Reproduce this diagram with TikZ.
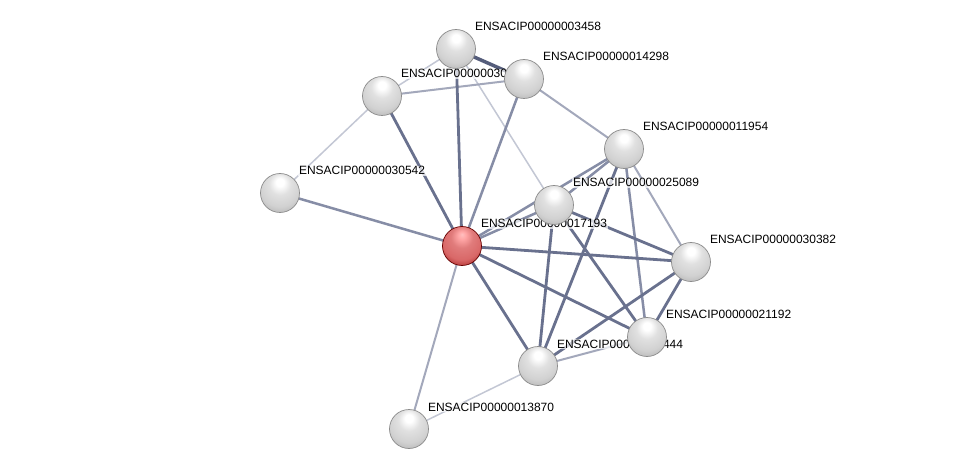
\documentclass[tikz,border=0pt]{standalone}
\usepackage{fontspec}
\setmainfont{Liberation Sans}
\usetikzlibrary{calc}
\pgfdeclarelayer{bglayer}
\pgfdeclarelayer{edgelayer}
\pgfdeclarelayer{labellayer}
\pgfsetlayers{bglayer,edgelayer,labellayer,main}
\definecolor{ecA}{HTML}{C3C7D4}
\definecolor{ecB}{HTML}{A3A8BB}
\definecolor{ecC}{HTML}{868DA6}
\definecolor{ecD}{HTML}{69718E}
\definecolor{ecE}{HTML}{555D7B}
\pgfdeclareradialshading{sphgray}{\pgfpoint{0bp}{15bp}}{color(0bp)=(white); color(5bp)=(white); color(14bp)=(white!88!black); color(26bp)=(white!82!black); color(36bp)=(white!70!black); color(42bp)=(white!55!black); color(60bp)=(white!55!black)}
\pgfdeclareradialshading{sphred}{\pgfpoint{0bp}{15bp}}{color(0bp)=(white!75!red); color(5bp)=(white!65!red); color(14bp)=(red!45!white!88!black); color(26bp)=(red!52!white!85!black); color(36bp)=(red!60!black!85!white); color(42bp)=(red!50!black); color(60bp)=(red!50!black)}
\tikzset{
  prot/.style={circle, minimum size=39pt, inner sep=0pt, draw=black!45, line width=0.7pt, shading=sphgray},
  protred/.style={prot, draw=red!40!black, shading=sphred},
  lbl/.style={anchor=base west, font=\fontsize{12pt}{14pt}\selectfont, fill=white, fill opacity=0.7, text opacity=1, inner sep=0.8pt},
  ea/.style={draw=ecA, line width=1.5pt},
  eb/.style={draw=ecB, line width=2pt},
  ec/.style={draw=ecC, line width=2.5pt},
  ed/.style={draw=ecD, line width=2.8pt},
  ee/.style={draw=ecE, line width=3.5pt}
}
\begin{document}
\begin{tikzpicture}[x=1pt,y=-1pt]
\useasboundingbox (0,0) rectangle (975,473);
\begin{pgfonlayer}{bglayer}
\fill[white] (0,0) rectangle (975,473);
\end{pgfonlayer}
% nodes
\node[prot] (A) at (456,49) {};
\node[prot] (B) at (524,79) {};
\node[prot] (C) at (382,96) {};
\node[prot] (D) at (280,193) {};
\node[protred] (E) at (462,246) {};
\node[prot] (F) at (624,149) {};
\node[prot] (G) at (554,205) {};
\node[prot] (H) at (691,262) {};
\node[prot] (I) at (647,337) {};
\node[prot] (J) at (538,366) {};
\node[prot] (K) at (409,429) {};
% labels
\begin{pgfonlayer}{labellayer}
\node[lbl] (lA) at ([shift={(18pt,18pt)}]A.center) {ENSACIP00000003458};
\node[lbl] (lB) at ([shift={(18pt,18pt)}]B.center) {ENSACIP00000014298};
\node[lbl] (lC) at ([shift={(18pt,18pt)}]C.center) {ENSACIP00000030};
\node[lbl] (lD) at ([shift={(18pt,18pt)}]D.center) {ENSACIP00000030542};
\node[lbl] (lE) at ([shift={(18pt,18pt)}]E.center) {ENSACIP00000017193};
\node[lbl] (lF) at ([shift={(18pt,18pt)}]F.center) {ENSACIP00000011954};
\node[lbl] (lG) at ([shift={(18pt,18pt)}]G.center) {ENSACIP00000025089};
\node[lbl] (lH) at ([shift={(18pt,18pt)}]H.center) {ENSACIP00000030382};
\node[lbl] (lI) at ([shift={(18pt,18pt)}]I.center) {ENSACIP00000021192};
\node[lbl] (lJ) at ([shift={(18pt,18pt)}]J.center) {ENSACIP00000000444};
\node[lbl] (lK) at ([shift={(18pt,18pt)}]K.center) {ENSACIP00000013870};
\end{pgfonlayer}
% edges
\begin{pgfonlayer}{edgelayer}
\draw[ea] (C.center) -- (A.center);
\draw[ea] (C.center) -- (D.center);
\draw[ea] (A.center) -- (G.center);
\draw[ea] (J.center) -- (K.center);
\draw[eb] (C.center) -- (B.center);
\draw[eb] (B.center) -- (F.center);
\draw[eb] (E.center) -- (K.center);
\draw[eb] (F.center) -- (H.center);
\draw[eb] (I.center) -- (J.center);
\draw[ec] (B.center) -- (E.center);
\draw[ec] (D.center) -- (E.center);
\draw[ec] (E.center) -- (F.center);
\draw[ec] (E.center) -- (G.center);
\draw[ec] (G.center) -- (F.center);
\draw[ec] (F.center) -- (I.center);
\draw[ed] (C.center) -- (E.center);
\draw[ed] (A.center) -- (E.center);
\draw[ed] (E.center) -- (H.center);
\draw[ed] (E.center) -- (I.center);
\draw[ed] (E.center) -- (J.center);
\draw[ed] (G.center) -- (H.center);
\draw[ed] (G.center) -- (I.center);
\draw[ed] (G.center) -- (J.center);
\draw[ed] (F.center) -- (J.center);
\draw[ed] (H.center) -- (I.center);
\draw[ed] (H.center) -- (J.center);
\draw[ee] (A.center) -- (B.center);
\end{pgfonlayer}
\end{tikzpicture}
\end{document}
